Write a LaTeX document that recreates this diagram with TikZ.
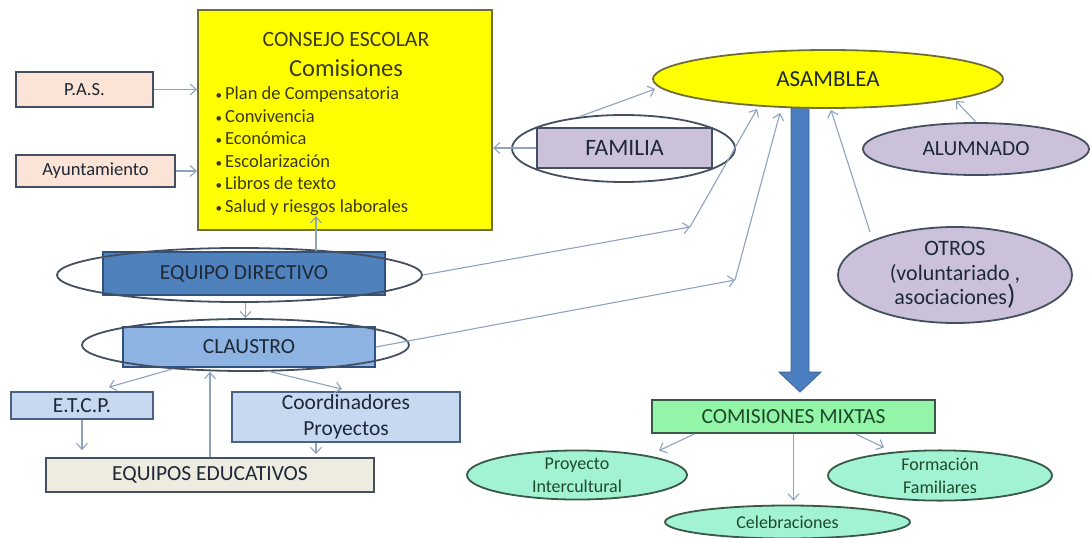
\documentclass[tikz,border=0pt]{standalone}
\usepackage{fontspec}
\setmainfont{Carlito}
\usetikzlibrary{arrows.meta,shapes.geometric,calc,backgrounds}
\definecolor{edgec}{HTML}{44505F}
\definecolor{conn}{HTML}{8FA3BD}
\definecolor{peach}{HTML}{FBE3D5}
\definecolor{yel}{HTML}{FFFF00}
\definecolor{olivec}{HTML}{6F6F35}
\definecolor{otxt}{HTML}{3A3A18}
\definecolor{lav}{HTML}{CBC1DB}
\definecolor{blueD}{HTML}{4F81BD}
\definecolor{blueDe}{HTML}{30527E}
\definecolor{blueM}{HTML}{8DB3E2}
\definecolor{blueL}{HTML}{C6D9F1}
\definecolor{blueLe}{HTML}{4A6282}
\definecolor{beige}{HTML}{EEECE1}
\definecolor{greenB}{HTML}{92F5A8}
\definecolor{mint}{HTML}{A2F2D4}
\definecolor{txt}{HTML}{1E2836}
\definecolor{gtxt}{HTML}{1E4A2A}
\definecolor{gedge}{HTML}{3A5848}
\definecolor{bigarrow}{HTML}{4A7EC0}
\definecolor{bigarrowe}{HTML}{3A6699}
\tikzset{
  box/.style={rectangle, draw=edgec, line width=1.8pt, inner sep=0pt, text=txt, align=center},
  oval/.style={ellipse, draw=edgec, line width=1.8pt, inner sep=0pt, text=txt, align=center},
  ring/.style={ellipse, draw=edgec, line width=1.8pt, inner sep=0pt},
  gbox/.style={rectangle, draw=gedge, line width=1.8pt, inner sep=0pt, text=gtxt, fill=greenB},
  goval/.style={ellipse, draw=gedge, line width=1.8pt, inner sep=0pt, text=gtxt, fill=mint, align=center},
  arr/.style={draw=conn, line width=1.1pt, -{Straight Barb[length=6pt,width=11pt]}},
  lbl/.style={font=\fontsize{21.5}{26}\selectfont},
  sml/.style={font=\fontsize{18.5}{23}\selectfont},
  grn/.style={font=\fontsize{18}{23}\selectfont},
}
\begin{document}
\begin{tikzpicture}[x=1pt,y=-1pt]
\useasboundingbox (0,0) rectangle (1090,538);

% left side
\node[box, fill=peach, minimum width=137pt, minimum height=35pt, sml] (pas) at (84.5,89.5) {P.A.S.};
\node[box, fill=peach, minimum width=159pt, minimum height=32pt, sml] (ayu) at (95.5,171) {Ayuntamiento};

\node[rectangle, draw=olivec, line width=2.2pt, fill=yel, minimum width=294pt, minimum height=220pt, inner sep=0pt] (consejo) at (345,120) {};
\node[text=otxt, font=\fontsize{21.8}{24}\selectfont] (ctitle) at (346,40) {CONSEJO ESCOLAR};
\node[text=otxt, font=\fontsize{24.5}{28}\selectfont] (csub) at (346,68) {Comisiones};
\foreach \t [count=\i] in {Plan de Compensatoria, Convivencia, Económica, Escolarización, Libros de texto, Salud y riesgos laborales}{
  \node[text=otxt, anchor=base west, inner sep=0pt, font=\fontsize{18.5}{21}\selectfont] (cb\i) at (215.5,{99.5+22.6*(\i-1)}) {{\fontsize{13}{13}\selectfont •}\hspace{3pt}\t};
}

% equipo directivo / claustro
\node[box, fill=blueD, draw=blueDe, minimum width=282pt, minimum height=43pt, lbl] (edr) at (244,273.5) {EQUIPO DIRECTIVO};
\node[ring, minimum width=365pt, minimum height=54pt] (ed) at (239.5,275) {};
\node[box, fill=blueM, draw=blueDe, minimum width=252pt, minimum height=40pt, lbl] (clr) at (249,347) {CLAUSTRO};
\node[ring, minimum width=327pt, minimum height=52pt] (cl) at (245.5,345) {};

\node[box, fill=blueL, draw=blueLe, minimum width=142pt, minimum height=27pt, lbl] (etcp) at (82,405.5) {E.T.C.P.};
\node[box, fill=blueL, draw=blueLe, minimum width=228pt, minimum height=50pt, lbl] (coord) at (346,417) {Coordinadores\\Proyectos};
\node[box, fill=beige, draw=edgec, minimum width=328pt, minimum height=34pt, lbl] (eqed) at (210,475) {EQUIPOS EDUCATIVOS};

% right side
\node[oval, fill=yel, draw=olivec, minimum width=350pt, minimum height=58pt, font=\fontsize{23}{26}\selectfont] (asam) at (828,79) {ASAMBLEA};
\node[ring, minimum width=223pt, minimum height=67pt] (fam) at (623.5,148.5) {};
\node[box, fill=lav, minimum width=175pt, minimum height=40pt, font=\fontsize{23.5}{26}\selectfont] (famr) at (624.5,148) {FAMILIA};
\node[oval, fill=lav, minimum width=226pt, minimum height=52pt, lbl] (alu) at (976,149) {ALUMNADO};
\node[oval, fill=lav, minimum width=234pt, minimum height=96pt, font=\fontsize{22}{24.5}\selectfont] (otros) at (955,275) {OTROS\\(voluntariado ,\\asociaciones{\fontsize{28}{24.5}\selectfont)}};

\node[gbox, minimum width=283pt, minimum height=33pt, font=\fontsize{21.5}{26}\selectfont] (cm) at (793.5,416.5) {COMISIONES MIXTAS};
\node[goval, minimum width=220pt, minimum height=46pt, grn] (pi) at (577,475) {Proyecto\\Intercultural};
\node[goval, minimum width=224pt, minimum height=45pt, grn] (ff) at (940,475.5) {Formación\\Familiares};
\node[goval, minimum width=245pt, minimum height=33pt, grn] (cel) at (787.5,522) {Celebraciones};

% background and big arrow
\begin{scope}[on background layer]
\fill[white] (0,0) rectangle (1090,538);
\coordinate (bt) at ($(asam.south)+(-28,-4)$);
\coordinate (bb) at ($(cm.north)+(6.5,-7)$);
\filldraw[fill=bigarrow, draw=bigarrowe, line width=0.8pt]
  ($(bt)+(-9,0)$) -- ($(bb)+(-9,-20)$) -- ($(bb)+(-21,-20)$) -- (bb) --
  ($(bb)+(21,-20)$) -- ($(bb)+(9,-20)$) -- ($(bt)+(9,0)$) -- cycle;
\end{scope}

% connectors
\draw[arr] (pas.east) -- (pas.east -| consejo.west);
\draw[arr] (ayu.east) -- (ayu.east -| consejo.west);
\draw[arr] (famr.west) -- (famr.west -| consejo.east);
\draw[arr] (fam.145) -- ($(asam.west)+(3,10)$);
\draw[arr] (alu.north) -- ($(asam.center)+(128,22)$);
\draw[arr] ($(otros.center)+(-85,-43)$) -- ($(asam.center)+(3,31)$);

\coordinate (bend1) at (690,227);
\coordinate (bend2) at (735,280);
\draw[arr] (ed.east) -- (bend1);
\draw[arr] (bend1) -- ($(asam.center)+(-71,30)$);
\draw[arr] (clr.east) -- (bend2);
\draw[arr] (bend2) -- ($(asam.center)+(-48,34)$);

\draw[arr] ($(edr.north)+(72,0)$) -- ($(consejo.south)+(-29,-15)$);
\draw[arr] (ed.south -| cl.north) -- (cl.north);
\draw[arr] ($(cl.center)+(-73,24)$) -- ($(etcp.north)+(27,-4)$);
\draw[arr] ($(cl.center)+(22,26)$) -- ($(coord.north)+(-4,-2)$);
\draw[arr] (etcp.south) -- ($(etcp.south |- eqed.north)+(0,-7)$);
\draw[arr] ($(coord.south)+(-30,0)$) -- ($(coord.south |- eqed.north)+(-30,-3)$);
\draw[arr] (eqed.north) -- (eqed.north |- cl.south);

\draw[arr] ($(cm.south)+(-99,0)$) -- ($(pi.north)+(82,1)$);
\draw[arr] (cm.south) -- ($(cm.south |- cel.north)+(0,-4)$);
\draw[arr] ($(cm.south)+(62,0)$) -- ($(ff.north)+(-56,-2)$);
\end{tikzpicture}
\end{document}
